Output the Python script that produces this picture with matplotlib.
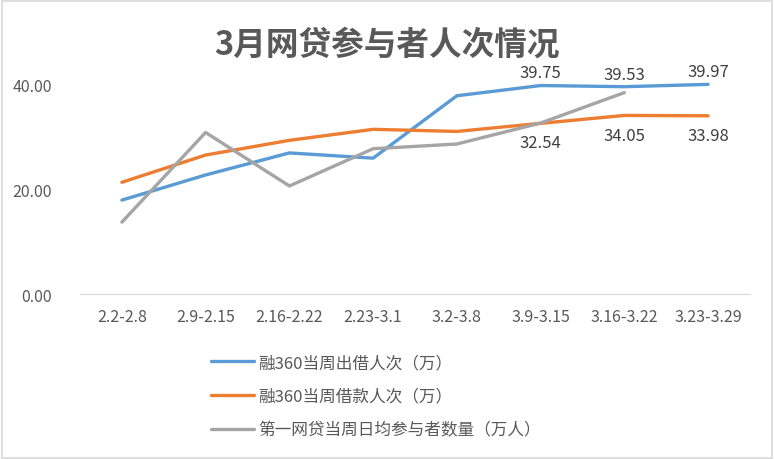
import matplotlib
matplotlib.use("Agg")
import matplotlib.pyplot as plt
from matplotlib.patches import Rectangle

plt.rcParams['font.family'] = ['Noto Sans CJK SC', 'DejaVu Sans']

weeks = ["2.2-2.8", "2.9-2.15", "2.16-2.22", "2.23-3.1", "3.2-3.8",
         "3.9-3.15", "3.16-3.22", "3.23-3.29"]
lenders = [17.9, 22.7, 26.9, 25.9, 37.8, 39.75, 39.53, 39.97]
borrowers = [21.3, 26.5, 29.3, 31.4, 31.0, 32.54, 34.05, 33.98]
platform = [13.7, 30.8, 20.6, 27.7, 28.6, 32.6, 38.4]

names = ["融360当周出借人次（万）", "融360当周借款人次（万）",
         "第一网贷当周日均参与者数量（万人）"]
colors = ["#5B9BD5", "#ED7D31", "#A5A5A5"]
text_color = "#595959"

fig = plt.figure(figsize=(7.74, 4.60), dpi=100)
ax = fig.add_axes([80 / 774, 165 / 460, 670 / 774, 236 / 460])

x = list(range(len(weeks)))
l1, = ax.plot(x, lenders, color=colors[0], lw=2.4, solid_capstyle='round')
l2, = ax.plot(x, borrowers, color=colors[1], lw=2.4, solid_capstyle='round')
l3, = ax.plot(x[:len(platform)], platform, color=colors[2], lw=2.4,
              solid_capstyle='round')

# data labels on the last three weeks
for i in range(5, 8):
    ax.annotate(f"{lenders[i]:.2f}", (i, lenders[i]), xytext=(0, 3),
                textcoords='offset points', ha='center', va='bottom',
                fontsize=12, color="#404040")
    ax.annotate(f"{borrowers[i]:.2f}", (i, borrowers[i]), xytext=(0, -8),
                textcoords='offset points', ha='center', va='top',
                fontsize=12, color="#404040")

ax.set_xlim(-0.5, 7.5)
ax.set_ylim(0, 45)
ax.set_yticks([0, 20, 40])
ax.set_yticklabels(["0.00", "20.00", "40.00"])
ax.set_xticks(x)
ax.set_xticklabels(weeks)
ax.tick_params(length=0, labelsize=11.5, colors=text_color)
ax.tick_params(axis='y', pad=20)
ax.tick_params(axis='x', pad=10)
for side in ["left", "right", "top"]:
    ax.spines[side].set_visible(False)
ax.spines["bottom"].set_color("#D9D9D9")

fig.text(0.5, 1 - 45 / 460, "3月网贷参与者人次情况", ha='center', va='center',
         fontsize=23.5, fontweight='bold', color=text_color)

leg = fig.legend([l1, l2, l3], names, loc='upper left',
                 bbox_to_anchor=(196 / 774, 1 - 340 / 460), frameon=False,
                 fontsize=12, handlelength=2.6, handletextpad=0.25,
                 labelspacing=1.0)
for t in leg.get_texts():
    t.set_color(text_color)

fig.add_artist(Rectangle((0.002, 0.003), 0.995, 0.993, transform=fig.transFigure,
                         fill=False, edgecolor="#D9D9D9", lw=1.2))

fig.savefig("out.png", dpi=100)
